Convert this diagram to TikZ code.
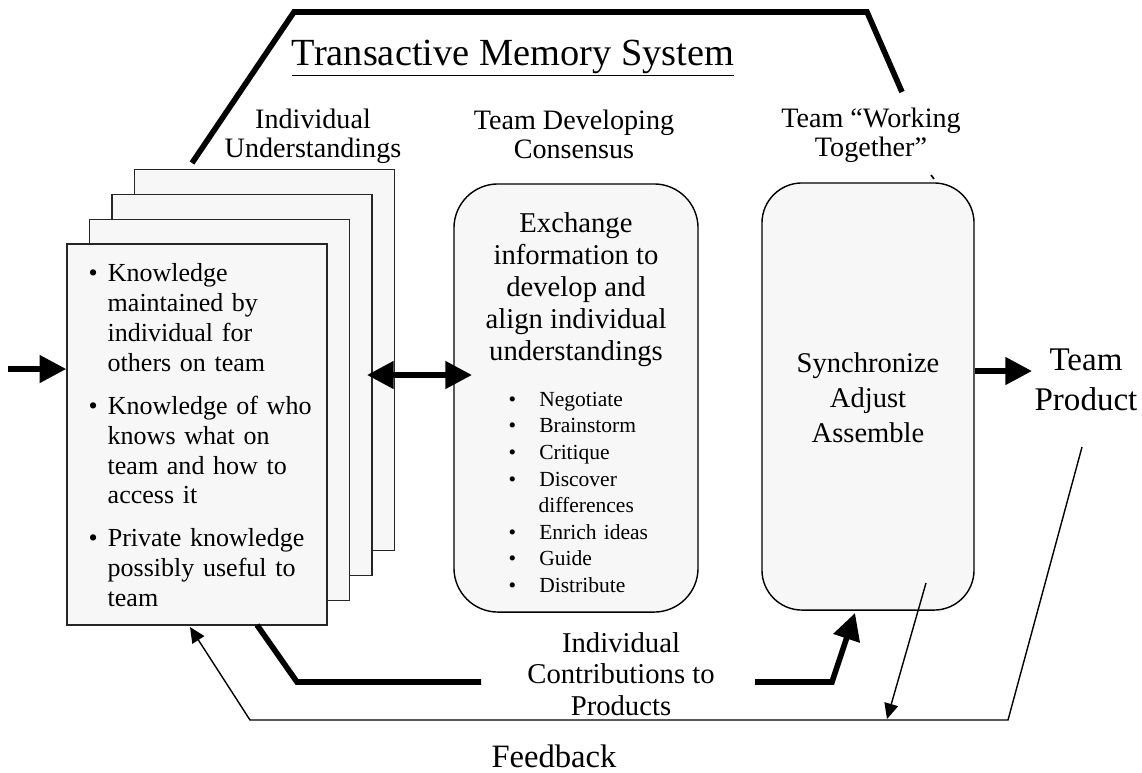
\documentclass[tikz,border=0pt]{standalone}
\usepackage{fontspec}
\setmainfont{Liberation Serif}
\usetikzlibrary{arrows.meta}

\definecolor{paper}{HTML}{F7F7F7}

\newenvironment{knowlist}{\begin{list}{\textbullet}{\setlength\leftmargin{0.475cm}\setlength\labelwidth{0.225cm}\setlength\labelsep{0.25cm}\setlength\itemsep{9pt}\setlength\parsep{0pt}\setlength\topsep{0pt}\setlength\partopsep{0pt}}\raggedright}{\end{list}}
\newenvironment{actlist}{\begin{list}{\textbullet}{\setlength\leftmargin{0.75cm}\setlength\labelwidth{0.175cm}\setlength\labelsep{0.575cm}\setlength\itemsep{0pt}\setlength\parsep{0pt}\setlength\topsep{0pt}\setlength\partopsep{0pt}}\raggedright}{\end{list}}

\begin{document}
\begin{tikzpicture}[x=0.025cm, y=-0.025cm, line width=1pt,
  page/.style={draw=black!85, fill=paper, minimum width=6.5cm, minimum height=9.525cm, inner sep=0pt},
  roundbox/.style={draw, fill=paper, inner sep=0pt},
  hdr/.style={align=center, inner sep=0pt, font=\fontsize{20}{20.8}\selectfont},
  heavy/.style={line width=4pt},
  bigtip/.style={-{Triangle[length=19pt,width=19pt]}},
  smalltip/.style={-{Triangle[length=11pt,width=10pt]}}]

\useasboundingbox (0,0) rectangle (1142,772);

% stacked pages, back to front
\node[page] (pageD) at (264.5,360) {};
\node[page] (pageC) at (242,385) {};
\node[page] (pageB) at (219.5,410) {};
\node[page] (pageA) at (197,434.5) {};

\node[roundbox, rounded corners=1.1cm, minimum width=6.1cm, minimum height=10.7cm] (midbox) at (576,398) {};
\node[roundbox, rounded corners=1cm, minimum width=5.3cm, minimum height=10.675cm] (rbox) at (868,396.5) {};

% titles
\node[inner sep=0pt, font=\fontsize{27.3}{30}\selectfont, anchor=base] (tms) at (513,65) {\underline{Transactive Memory System}};
\node[hdr] (indhdr) at (313,136) {Individual\\Understandings};
\node[hdr] (devhdr) at (574,134) {Team Developing\\Consensus};
\node[hdr] (wrkhdr) at (871,135) {Team “Working\\Together”};

% page text
\node[anchor=north west, inner sep=0pt, text width=6cm, font=\fontsize{18.5}{21.3}\selectfont] (knowtxt) at (88,251) {%
\begin{knowlist}
\item Knowledge\\maintained by\\individual for\\others on team
\item Knowledge of who\\knows what on\\team and how to\\access it
\item Private knowledge\\possibly useful to\\team
\end{knowlist}};

% consensus box text
\node[align=center, inner sep=0pt, font=\fontsize{20.4}{22.8}\selectfont] (xchtxt) at (576,290) {Exchange\\information to\\develop and\\align individual\\understandings};
\node[anchor=north west, inner sep=0pt, text width=4.75cm, font=\fontsize{15.3}{18.9}\selectfont] (acttxt) at (508,379) {%
\begin{actlist}
\item Negotiate
\item Brainstorm
\item Critique
\item Discover\\differences
\item Enrich ideas
\item Guide
\item Distribute
\end{actlist}};

\node[align=center, inner sep=0pt, font=\fontsize{20.3}{25}\selectfont] (synctxt) at (868,398) {Synchronize\\Adjust\\Assemble};
\node[align=center, inner sep=0pt, font=\fontsize{23.5}{28.5}\selectfont] (prod) at (1086,380) {Team\\Product};
\node[align=center, inner sep=0pt, font=\fontsize{20.4}{22.5}\selectfont] (contrib) at (621,674) {Individual\\Contributions to\\Products};
\node[inner sep=0pt, font=\fontsize{23.2}{26}\selectfont, anchor=base] (fback) at (554,767) {Feedback};

% thick connectors
\coordinate (tmsA) at (192,163);
\coordinate (tmsB) at (294,12);
\coordinate (tmsC) at (867,12);
\coordinate (tmsD) at (902,92);
\draw[heavy] (tmsA) -- (tmsB) -- (tmsC) -- (tmsD);

\coordinate (inL) at (8,369);
\draw[heavy, bigtip] (inL) -- (inL -| pageA.west);

\coordinate (xchL) at (367,375);
\coordinate (xchR) at (472,375);
\draw[heavy, {Triangle[length=19pt,width=19pt]}-{Triangle[length=19pt,width=19pt]}] (xchL) -- (xchR);

\coordinate (prodR) at (1032,371);
\draw[heavy, bigtip] (prodR -| rbox.east) -- (prodR);

\coordinate (ctbA) at (257,625);
\coordinate (ctbB) at (297,682);
\coordinate (ctbC) at (481,682);
\coordinate (ctbD) at (755,682);
\coordinate (ctbE) at (832,682);
\coordinate (ctbF) at (855,613);
\draw[heavy] (ctbA) -- (ctbB) -- (ctbC);
\draw[heavy, bigtip] (ctbD) -- (ctbE) -- (ctbF);

% feedback loop
\coordinate (fbA) at (1082,447);
\coordinate (fbB) at (1008,720);
\coordinate (fbC) at (250,720);
\coordinate (fbD) at (190,627);
\draw[smalltip] (fbA) -- (fbB) -- (fbC) -- (fbD);
\coordinate (fbE) at (926,583);
\coordinate (fbF) at (887,719);
\draw[smalltip] (fbE) -- (fbF);

\draw[line width=1.2pt] (931,175) -- (934,179);

\end{tikzpicture}
\end{document}
